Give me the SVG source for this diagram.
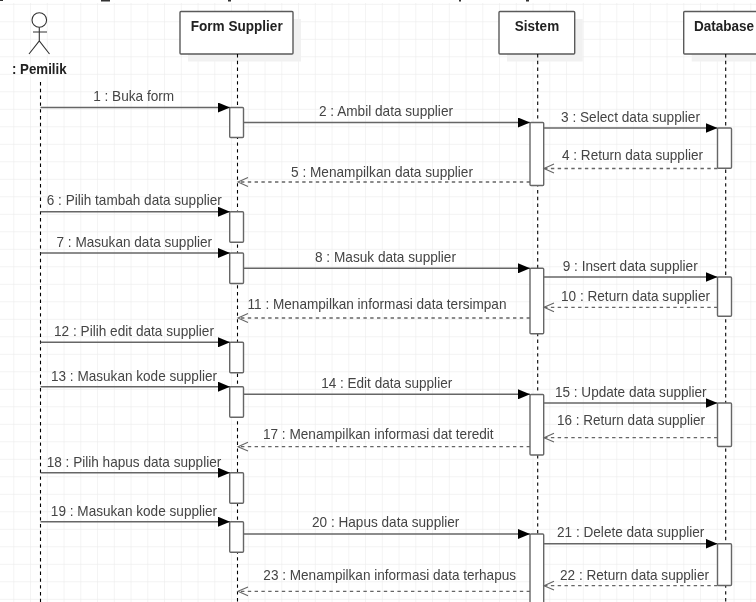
<svg xmlns="http://www.w3.org/2000/svg" width="756" height="602" viewBox="0 0 756 602">
<style>
text{font-family:"Liberation Sans",Arial,sans-serif;font-size:14.6px;text-anchor:middle}
.m{fill:#444}
.n{fill:#222;font-weight:bold}
.box{fill:#fff;stroke:#5a5a5a;stroke-width:1.4}
.shadow{fill:#f1f1f1}
.act{fill:#fff;stroke:#666;stroke-width:1.4}
.life{stroke:#000;stroke-width:1.1;stroke-dasharray:3.4 3.4;fill:none}
.sync{stroke:#666;stroke-width:1.4;fill:none;marker-end:url(#solid)}
.ret{stroke:#666;stroke-width:1.3;stroke-dasharray:3.4 3.4;fill:none;marker-end:url(#openEnd)}
.actor{stroke:#333;stroke-width:1.1;fill:#fff}
#pemilik,#form-supplier,#sistem,#database,#connectors{filter:url(#soft)}
</style>
<defs>
<filter id="soft" filterUnits="userSpaceOnUse" x="0" y="0" width="756" height="602"><feGaussianBlur stdDeviation="0.3"/></filter>
<pattern id="grid" patternUnits="userSpaceOnUse" x="13.3" y="3.8" width="16.75" height="17.5">
<path d="M0 0V17.5M0 0H16.75" stroke="#eee" stroke-width="1.4" fill="none"/>
</pattern>
<marker id="solid" markerUnits="userSpaceOnUse" viewBox="0 0 12 10" refX="12" refY="5" markerWidth="12" markerHeight="10" orient="auto">
<path d="M0 0L12 5L0 10Z" fill="#000"/>
</marker>
<marker id="openEnd" markerUnits="userSpaceOnUse" viewBox="0 0 11 10" refX="10.5" refY="5" markerWidth="11" markerHeight="10" orient="auto" overflow="visible">
<path d="M0.5 0.6L10.5 5L0.5 9.4" fill="none" stroke="#666" stroke-width="1.1"/>
</marker>
</defs>
<rect width="756" height="602" fill="#fff"/>
<rect y="3" width="756" height="599" fill="url(#grid)"/>
<path id="caption-edge" d="M0 0h3v1h-3zM101 0h9v1.5h-9zM228 0h3v1.5h-3zM459 0h2v1.5h-2zM526 0h3v1.5h-3z" fill="#333"/>

<g id="pemilik">
<path class="life" d="M40.5 82V602"/>
<circle class="actor" cx="39.3" cy="20" r="7.3"/>
<path class="actor" fill="none" d="M39.3 27.3V41M33 32H47M29 54L39.3 41L49.5 54"/>
<text class="n" x="39.3" y="74" textLength="54.7" lengthAdjust="spacingAndGlyphs">: Pemilik</text>
</g>

<g id="form-supplier">
<rect class="shadow" x="188" y="19" width="113" height="42.5"/>
<rect class="box" x="180" y="11.5" width="113" height="42.5" rx="1"/>
<text class="n" x="236.7" y="30.5" textLength="92" lengthAdjust="spacingAndGlyphs">Form Supplier</text>
<path class="life" d="M237.5 54V602"/>
<rect class="act" x="229.7" y="107.5" width="13.8" height="30" rx="1"/>
<rect class="act" x="229.7" y="211.7" width="13.8" height="30.5" rx="1"/>
<rect class="act" x="229.7" y="253" width="13.8" height="30.5" rx="1"/>
<rect class="act" x="229.7" y="342.3" width="13.8" height="30.4" rx="1"/>
<rect class="act" x="229.7" y="386.7" width="13.8" height="30.6" rx="1"/>
<rect class="act" x="229.7" y="472.7" width="13.8" height="30.6" rx="1"/>
<rect class="act" x="229.7" y="521.7" width="13.8" height="30.6" rx="1"/>
</g>

<g id="sistem">
<rect class="shadow" x="507" y="19" width="75.7" height="42.5"/>
<rect class="box" x="499" y="11.5" width="75.7" height="42.5" rx="1"/>
<text class="n" x="537" y="30.5" textLength="44.3" lengthAdjust="spacingAndGlyphs">Sistem</text>
<path class="life" d="M537.7 54V602"/>
<rect class="act" x="530" y="122.5" width="13.7" height="63" rx="1"/>
<rect class="act" x="530" y="268.3" width="13.7" height="65.4" rx="1"/>
<rect class="act" x="530" y="394.5" width="13.7" height="60.5" rx="1"/>
<rect class="act" x="530" y="534" width="13.7" height="72" rx="1"/>
</g>

<g id="database">
<rect class="shadow" x="691.7" y="19" width="75" height="42.5"/>
<rect class="box" x="683.7" y="11.5" width="75" height="42.5" rx="1"/>
<text class="n" x="724" y="30.5" textLength="60" lengthAdjust="spacingAndGlyphs">Database</text>
<path class="life" d="M725.7 54V602"/>
<rect class="act" x="717.5" y="128" width="14" height="40.3" rx="1"/>
<rect class="act" x="717.5" y="277" width="14" height="39.3" rx="1"/>
<rect class="act" x="717.5" y="403" width="14" height="43.5" rx="1"/>
<rect class="act" x="717.5" y="543.7" width="14" height="41.8" rx="1"/>
</g>

<g id="connectors">
<path class="sync" d="M40.5 107.5H230"/><text class="m" x="133.7" y="101" textLength="81" lengthAdjust="spacingAndGlyphs">1 : Buka form</text>
<path class="sync" d="M243.5 122.5H530"/><text class="m" x="386" y="116" textLength="134" lengthAdjust="spacingAndGlyphs">2 : Ambil data supplier</text>
<path class="sync" d="M543.7 128H717.5"/><text class="m" x="630.5" y="122" textLength="139" lengthAdjust="spacingAndGlyphs">3 : Select data supplier</text>
<path class="ret" d="M717.5 168.5H544"/><text class="m" x="632.5" y="160" textLength="141" lengthAdjust="spacingAndGlyphs">4 : Return data supplier</text>
<path class="ret" d="M530 182H238"/><text class="m" x="382" y="177" textLength="182" lengthAdjust="spacingAndGlyphs">5 : Menampilkan data supplier</text>
<path class="sync" d="M40.5 211.7H230"/><text class="m" x="134.3" y="205" textLength="175" lengthAdjust="spacingAndGlyphs">6 : Pilih tambah data supplier</text>
<path class="sync" d="M40.5 253H230"/><text class="m" x="134.3" y="246.7" textLength="155.5" lengthAdjust="spacingAndGlyphs">7 : Masukan data supplier</text>
<path class="sync" d="M243.5 268.3H530"/><text class="m" x="385.5" y="262" textLength="141" lengthAdjust="spacingAndGlyphs">8 : Masuk data supplier</text>
<path class="sync" d="M543.7 277H717.5"/><text class="m" x="630.2" y="271" textLength="135" lengthAdjust="spacingAndGlyphs">9 : Insert data supplier</text>
<path class="ret" d="M717.5 307.3H544"/><text class="m" x="635.5" y="301" textLength="149" lengthAdjust="spacingAndGlyphs">10 : Return data supplier</text>
<path class="ret" d="M530 318H238"/><text class="m" x="377" y="309" textLength="259" lengthAdjust="spacingAndGlyphs">11 : Menampilkan informasi data tersimpan</text>
<path class="sync" d="M40.5 342.3H230"/><text class="m" x="134" y="336" textLength="160" lengthAdjust="spacingAndGlyphs">12 : Pilih edit data supplier</text>
<path class="sync" d="M40.5 386.7H230"/><text class="m" x="134" y="380.7" textLength="166" lengthAdjust="spacingAndGlyphs">13 : Masukan kode supplier</text>
<path class="sync" d="M243.5 394.3H530"/><text class="m" x="386.7" y="388" textLength="131" lengthAdjust="spacingAndGlyphs">14 : Edit data supplier</text>
<path class="sync" d="M543.7 403H717.5"/><text class="m" x="630.8" y="397" textLength="151.7" lengthAdjust="spacingAndGlyphs">15 : Update data supplier</text>
<path class="ret" d="M717.5 437.7H544"/><text class="m" x="631" y="425" textLength="148" lengthAdjust="spacingAndGlyphs">16 : Return data supplier</text>
<path class="ret" d="M530 446.7H238"/><text class="m" x="378.3" y="439" textLength="230.7" lengthAdjust="spacingAndGlyphs">17 : Menampilkan informasi dat teredit</text>
<path class="sync" d="M40.5 472.7H230"/><text class="m" x="134" y="466.7" textLength="174.6" lengthAdjust="spacingAndGlyphs">18 : Pilih hapus data supplier</text>
<path class="sync" d="M40.5 521.7H230"/><text class="m" x="134" y="515.7" textLength="166.3" lengthAdjust="spacingAndGlyphs">19 : Masukan kode supplier</text>
<path class="sync" d="M243.5 534H530"/><text class="m" x="385.7" y="527.3" textLength="147.3" lengthAdjust="spacingAndGlyphs">20 : Hapus data supplier</text>
<path class="sync" d="M543.7 543.7H717.5"/><text class="m" x="630.7" y="537.3" textLength="147.3" lengthAdjust="spacingAndGlyphs">21 : Delete data supplier</text>
<path class="ret" d="M717.5 585.7H544"/><text class="m" x="634.5" y="580" textLength="149" lengthAdjust="spacingAndGlyphs">22 : Return data supplier</text>
<path class="ret" d="M530 591.3H238"/><text class="m" x="389.7" y="580" textLength="252.7" lengthAdjust="spacingAndGlyphs">23 : Menampilkan informasi data terhapus</text>
</g>
</svg>
